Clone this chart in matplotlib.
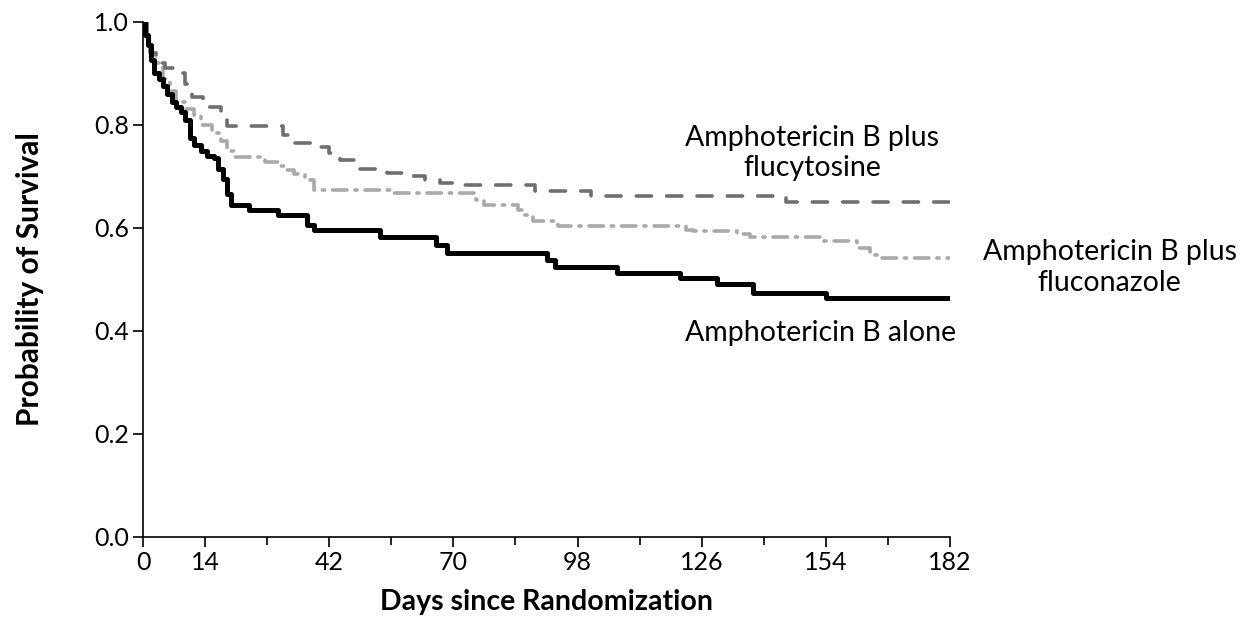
import matplotlib
matplotlib.use('Agg')
import matplotlib.pyplot as plt
from matplotlib.ticker import MultipleLocator, FixedLocator

plt.rcParams['font.family'] = ['Lato', 'DejaVu Sans']

# survival curves (days, probability)
t_alone = [0, 0.5, 1.2, 1.8, 2.5, 3.5, 4.5, 5.5, 6.5, 7.5, 8.5, 9.5, 10.5, 11.5, 13, 14.5,
           16, 17, 18, 19, 19.8, 24, 30.5, 37, 38.5, 53.5, 66, 68.5, 91, 93, 107, 121,
           129.5, 137.5, 154, 182]
s_alone = [1.0, 0.975, 0.955, 0.925, 0.90, 0.89, 0.875, 0.86, 0.845, 0.835, 0.825, 0.81,
           0.775, 0.76, 0.75, 0.74, 0.735, 0.715, 0.695, 0.665, 0.645, 0.635, 0.625, 0.605,
           0.596, 0.583, 0.567, 0.552, 0.538, 0.525, 0.512, 0.502, 0.491, 0.473, 0.463, 0.463]

t_flucyt = [0, 0.8, 1.5, 3, 5, 8, 9.5, 11, 13.5, 17.5, 19, 31.5, 33, 40, 42, 44.5, 47.5,
            55, 61, 63.5, 67, 71, 88.5, 101, 145, 182]
s_flucyt = [1.0, 0.97, 0.94, 0.92, 0.91, 0.90, 0.88, 0.855, 0.835, 0.815, 0.797, 0.78,
            0.765, 0.757, 0.745, 0.732, 0.715, 0.707, 0.70, 0.693, 0.688, 0.683, 0.671,
            0.661, 0.650, 0.650]

t_flucon = [0, 1, 2, 3, 4.5, 6, 7.5, 9.5, 11.5, 13, 15.5, 17.5, 19, 20.5, 27.5, 30.5, 32.5,
            34, 36.5, 38.5, 56, 75, 77, 84.5, 86, 88, 93.5, 122.5, 124, 134, 137, 153, 161,
            164, 166, 182]
s_flucon = [1.0, 0.965, 0.94, 0.92, 0.89, 0.865, 0.845, 0.83, 0.82, 0.80, 0.785, 0.768,
            0.75, 0.738, 0.727, 0.72, 0.712, 0.705, 0.692, 0.674, 0.668, 0.654, 0.645, 0.635,
            0.625, 0.614, 0.603, 0.595, 0.593, 0.588, 0.583, 0.575, 0.56, 0.548, 0.541, 0.541]

major_days = [0, 14, 42, 70, 98, 126, 154, 182]
minor_days = [28, 56, 84, 112, 140, 168]

fig = plt.figure(figsize=(12.6, 6.43), dpi=100)
ax = fig.add_axes([0.1135, 0.165, 0.6405, 0.801])

ax.step(t_flucon, s_flucon, where='post', color='#a9a9a9', lw=2.6,
        linestyle=(0, (4, 2.2, 0.6, 2.2)), dash_capstyle='round', solid_capstyle='round')
ax.step(t_flucyt, s_flucyt, where='post', color='#6f6f6f', lw=2.6,
        linestyle=(0, (4.2, 4.2)), dash_capstyle='round')
ax.step(t_alone, s_alone, where='post', color='black', lw=3.6)

ax.set_xlim(0, 182)
ax.set_ylim(0, 1.0)
ax.xaxis.set_major_locator(FixedLocator(major_days))
ax.xaxis.set_minor_locator(FixedLocator(minor_days))
ax.yaxis.set_major_locator(MultipleLocator(0.2))
ax.yaxis.set_major_formatter(matplotlib.ticker.FormatStrFormatter('%.1f'))

for side in ['top', 'right']:
    ax.spines[side].set_visible(False)
for side in ['left', 'bottom']:
    ax.spines[side].set_linewidth(1.2)
ax.tick_params(axis='both', which='major', direction='out', length=7, width=1.2,
               labelsize=18, pad=3)
ax.tick_params(axis='x', which='minor', direction='out', length=6, width=1.2)

ax.set_xlabel('Days since Randomization', fontsize=20.5, fontweight='bold', labelpad=11)
ax.set_ylabel('Probability of Survival', fontsize=21.5, fontweight='bold', labelpad=36)

ax.text(150.9, 0.745, 'Amphotericin B plus\nflucytosine', fontsize=20.5, ha='center',
        va='center', linespacing=1.2, clip_on=False)
ax.text(218, 0.523, 'Amphotericin B plus\nfluconazole', fontsize=20.5, ha='center',
        va='center', linespacing=1.2, clip_on=False)
ax.text(152.7, 0.396, 'Amphotericin B alone', fontsize=20.5, ha='center', va='center',
        clip_on=False)

plt.savefig('out.png', dpi=100)
